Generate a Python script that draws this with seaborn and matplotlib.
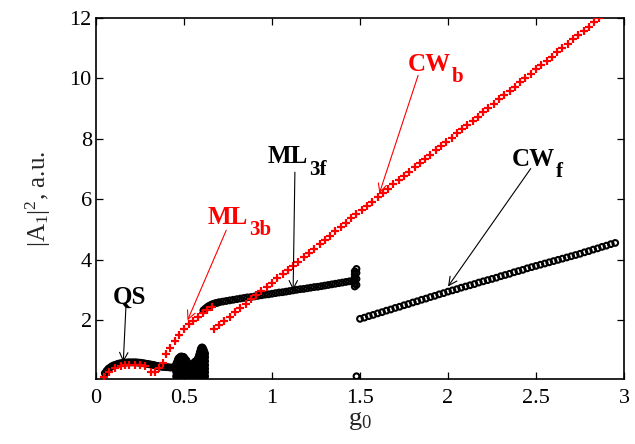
import numpy as np
import pandas as pd
import seaborn as sns
import matplotlib
matplotlib.use('Agg')
import matplotlib.pyplot as plt


"""### Data read off the figure"""

# QS branch (black circles)
qs_g0 = [0.05, 0.06, 0.07, 0.08, 0.09, 0.10, 0.11, 0.12, 0.13, 0.14, 0.15, 0.16, 0.17,
         0.18, 0.19, 0.20, 0.21, 0.22, 0.23, 0.24, 0.25, 0.26, 0.27, 0.28, 0.29, 0.30,
         0.31, 0.32, 0.33, 0.34, 0.35, 0.36, 0.37, 0.38, 0.39, 0.40, 0.41, 0.42, 0.43,
         0.44, 0.45]
qs_a = [0.25, 0.33, 0.40, 0.44, 0.48, 0.51, 0.53, 0.55, 0.57, 0.58, 0.59, 0.60, 0.60,
        0.61, 0.61, 0.61, 0.61, 0.61, 0.61, 0.60, 0.60, 0.59, 0.58, 0.57, 0.56, 0.55,
        0.54, 0.53, 0.52, 0.50, 0.49, 0.48, 0.47, 0.46, 0.46, 0.45, 0.45, 0.44, 0.44,
        0.44, 0.44]

# chaotic region, several values per g0
chaos_g0 = [0.455, 0.46, 0.465, 0.47, 0.475, 0.48, 0.485, 0.49, 0.495, 0.50, 0.505,
            0.51, 0.515, 0.52, 0.525, 0.53, 0.54,
            0.55, 0.555, 0.56, 0.565, 0.57, 0.575, 0.58, 0.585, 0.59, 0.595, 0.60,
            0.605, 0.61, 0.615, 0.62]
chaos_a = [
    [0.15, 0.30, 0.45, 0.55],
    [0.12, 0.25, 0.38, 0.50, 0.62],
    [0.10, 0.22, 0.35, 0.48, 0.60, 0.70],
    [0.10, 0.22, 0.35, 0.48, 0.62, 0.75],
    [0.10, 0.22, 0.35, 0.48, 0.62, 0.76],
    [0.10, 0.22, 0.35, 0.48, 0.60, 0.72, 0.80],
    [0.10, 0.22, 0.35, 0.48, 0.60, 0.72, 0.80],
    [0.10, 0.22, 0.35, 0.48, 0.60, 0.72, 0.80],
    [0.10, 0.22, 0.35, 0.48, 0.60, 0.72, 0.79],
    [0.10, 0.22, 0.35, 0.48, 0.60, 0.70, 0.78],
    [0.10, 0.22, 0.35, 0.48, 0.60, 0.72],
    [0.10, 0.22, 0.35, 0.48, 0.60, 0.70],
    [0.10, 0.22, 0.35, 0.48, 0.60, 0.66],
    [0.10, 0.22, 0.35, 0.48, 0.60],
    [0.12, 0.25, 0.38, 0.50, 0.55],
    [0.15, 0.28, 0.40, 0.50],
    [0.20, 0.32, 0.45],
    [0.10, 0.22, 0.35, 0.45, 0.55],
    [0.10, 0.22, 0.35, 0.48, 0.58],
    [0.10, 0.22, 0.35, 0.48, 0.62],
    [0.10, 0.22, 0.35, 0.48, 0.60, 0.64],
    [0.10, 0.22, 0.35, 0.48, 0.58, 0.65],
    [0.10, 0.22, 0.35, 0.48, 0.60, 0.70],
    [0.10, 0.22, 0.35, 0.48, 0.62, 0.75],
    [0.10, 0.22, 0.35, 0.48, 0.60, 0.72, 0.85],
    [0.10, 0.22, 0.35, 0.48, 0.60, 0.72, 0.85, 0.95],
    [0.10, 0.22, 0.35, 0.48, 0.60, 0.72, 0.85, 0.98, 1.05],
    [0.10, 0.22, 0.35, 0.48, 0.60, 0.72, 0.85, 0.98, 1.10],
    [0.10, 0.22, 0.35, 0.48, 0.60, 0.72, 0.85, 0.98, 1.10],
    [0.10, 0.22, 0.35, 0.48, 0.60, 0.72, 0.85, 0.95, 1.05],
    [0.12, 0.25, 0.38, 0.50, 0.62, 0.75, 0.88, 0.98],
    [0.15, 0.28, 0.40, 0.52, 0.65, 0.78, 0.90],
]

# ML_3f branch (black circles)
ml3f_g0 = [0.61, 0.62, 0.63, 0.64, 0.65, 0.66, 0.67, 0.68, 0.69, 0.70, 0.72, 0.74, 0.76,
           0.78, 0.80, 0.82, 0.84, 0.86, 0.88, 0.90, 0.92, 0.94, 0.96, 0.98, 1.00, 1.02,
           1.04, 1.06, 1.08, 1.10, 1.12, 1.14, 1.16, 1.18, 1.20, 1.22, 1.24, 1.26, 1.28,
           1.30, 1.32, 1.34, 1.36, 1.38, 1.40, 1.42, 1.44, 1.46,
           1.47, 1.47, 1.47, 1.47, 1.47, 1.47, 1.48, 1.48, 1.48, 1.48]
ml3f_a = [2.33, 2.38, 2.43, 2.47, 2.50, 2.53, 2.55, 2.57, 2.58, 2.60, 2.62, 2.64, 2.66,
          2.68, 2.70, 2.72, 2.74, 2.76, 2.77, 2.79, 2.81, 2.83, 2.85, 2.86, 2.88, 2.90,
          2.92, 2.93, 2.95, 2.97, 2.99, 3.01, 3.03, 3.04, 3.06, 3.08, 3.10, 3.11, 3.13,
          3.15, 3.17, 3.19, 3.21, 3.23, 3.25, 3.27, 3.29, 3.31,
          3.12, 3.22, 3.32, 3.42, 3.52, 3.62, 3.17, 3.37, 3.57, 3.70]

# isolated point and CW_f branch (black circles)
lone_g0 = [1.48]
lone_a = [0.15]

cwf_g0 = [1.500, 1.525, 1.550, 1.575, 1.600, 1.625, 1.650, 1.675, 1.700, 1.725,
          1.750, 1.775, 1.800, 1.825, 1.850, 1.875, 1.900, 1.925, 1.950, 1.975,
          2.000, 2.025, 2.050, 2.075, 2.100, 2.125, 2.150, 2.175, 2.200, 2.225,
          2.250, 2.275, 2.300, 2.325, 2.350, 2.375, 2.400, 2.425, 2.450, 2.475,
          2.500, 2.525, 2.550, 2.575, 2.600, 2.625, 2.650, 2.675, 2.700, 2.725,
          2.750, 2.775, 2.800, 2.825, 2.850, 2.875, 2.900, 2.925, 2.950]
cwf_a = [2.05, 2.09, 2.14, 2.18, 2.23, 2.27, 2.32, 2.36, 2.41, 2.45,
         2.50, 2.54, 2.59, 2.63, 2.68, 2.72, 2.77, 2.81, 2.86, 2.90,
         2.95, 2.99, 3.03, 3.08, 3.12, 3.16, 3.20, 3.25, 3.29, 3.33,
         3.37, 3.41, 3.46, 3.50, 3.54, 3.59, 3.63, 3.67, 3.72, 3.76,
         3.80, 3.84, 3.88, 3.92, 3.96, 4.00, 4.04, 4.08, 4.12, 4.16,
         4.20, 4.25, 4.29, 4.34, 4.38, 4.43, 4.47, 4.52, 4.56]

# ML_3b branch (red pluses)
ml3b_g0 = [0.045, 0.075, 0.11, 0.14, 0.165, 0.19, 0.22, 0.25, 0.28, 0.31, 0.335, 0.36,
           0.38, 0.40, 0.42, 0.45, 0.47, 0.50, 0.53, 0.55, 0.58, 0.61, 0.63, 0.66]
ml3b_a = [0.12, 0.30, 0.42, 0.50, 0.52, 0.53, 0.53, 0.53, 0.50, 0.28, 0.28, 0.41,
          0.58, 0.90, 1.10, 1.31, 1.50, 1.70, 1.87, 1.97, 2.10, 2.23, 2.33, 2.43]

# CW_b branch (red pluses)
cwb_g0 = [0.67, 0.70, 0.73, 0.76, 0.79, 0.82, 0.85, 0.88, 0.91, 0.94, 0.97, 1.00,
          1.03, 1.06, 1.09, 1.12, 1.15, 1.18, 1.21, 1.24, 1.27, 1.30, 1.33, 1.36,
          1.39, 1.42, 1.45, 1.48, 1.51, 1.54, 1.57, 1.60, 1.63, 1.66, 1.69, 1.72,
          1.75, 1.78, 1.81, 1.84, 1.87, 1.90, 1.93, 1.96, 1.99, 2.02, 2.05, 2.08,
          2.11, 2.14, 2.17, 2.20, 2.23, 2.26, 2.29, 2.32, 2.35, 2.38, 2.41, 2.44,
          2.47, 2.50, 2.53, 2.56, 2.59, 2.62, 2.65, 2.68, 2.71, 2.74, 2.77, 2.80,
          2.83, 2.86]
cwb_a = [1.70, 1.84, 1.98, 2.12, 2.26, 2.40, 2.55, 2.69, 2.83, 2.97, 3.11, 3.25,
         3.39, 3.53, 3.67, 3.80, 3.94, 4.08, 4.22, 4.36, 4.51, 4.65, 4.80, 4.94,
         5.08, 5.22, 5.37, 5.51, 5.65, 5.79, 5.93, 6.08, 6.22, 6.36, 6.50, 6.64,
         6.78, 6.92, 7.06, 7.20, 7.34, 7.48, 7.62, 7.76, 7.90, 8.04, 8.18, 8.32,
         8.46, 8.60, 8.74, 8.88, 9.02, 9.16, 9.31, 9.45, 9.59, 9.73, 9.87, 10.01,
         10.15, 10.30, 10.44, 10.58, 10.72, 10.86, 11.00, 11.15, 11.29, 11.43, 11.57, 11.71,
         11.86, 12.00]

x_ticks = [0, 0.5, 1, 1.5, 2, 2.5, 3]
x_tick_labels = ['0', '0.5', '1', '1.5', '2', '2.5', '3']
y_ticks = [2, 4, 6, 8, 10, 12]

"""### Build tables"""

chaos_x = [g for g, col in zip(chaos_g0, chaos_a) for _ in col]
chaos_y = [v for col in chaos_a for v in col]

black = pd.DataFrame({
    'g0': qs_g0 + chaos_x + ml3f_g0 + lone_g0 + cwf_g0,
    'A2': qs_a + chaos_y + ml3f_a + lone_a + cwf_a,
})
red = pd.DataFrame({
    'g0': ml3b_g0 + cwb_g0,
    'A2': ml3b_a + cwb_a,
})

"""### Plot"""

sns.set_style('ticks')
plt.rcParams['font.family'] = ['Liberation Serif', 'DejaVu Serif']
plt.rcParams['mathtext.fontset'] = 'custom'
plt.rcParams['mathtext.rm'] = 'Liberation Serif'
plt.rcParams['mathtext.it'] = 'Liberation Serif'
plt.rcParams['mathtext.bf'] = 'Liberation Serif:bold'

fig = plt.figure(figsize=(6.35, 4.44), dpi=100)
ax = fig.add_axes([0.1512, 0.1464, 0.8315, 0.8131])

sns.scatterplot(data=black, x='g0', y='A2', ax=ax, marker='o', s=17,
                facecolor='none', edgecolor='black', linewidth=1.5, zorder=3)
sns.scatterplot(data=red, x='g0', y='A2', ax=ax, marker='+', s=30,
                color='red', linewidth=1.6, zorder=4)

ax.set_xlim(0, 3)
ax.set_ylim(0.06, 12)
ax.set_xticks(x_ticks)
ax.set_xticklabels(x_tick_labels)
ax.set_yticks(y_ticks)
ax.tick_params(direction='in', length=5, width=0.9, labelsize=16,
               top=True, right=True, colors='black')
ax.tick_params(axis='x', pad=7)
ax.tick_params(axis='y', pad=3)
for sp in ax.spines.values():
    sp.set_visible(True)
    sp.set_linewidth(1.2)
    sp.set_color('black')

ax.set_xlabel(r'$\mathrm{g}_0$', fontsize=19, labelpad=1)
ax.set_ylabel(r'$|\mathrm{A}_1|^2$, a.u.', fontsize=18, labelpad=12)


# labels with arrows: main text, then a lowered subscript beside it
def label(main, sub, xy, xytext, arrow_from, color):
    t = ax.text(xytext[0], xytext[1], main, color=color, fontsize=18,
                fontweight='bold', ha='left', va='baseline', zorder=6)
    if sub:
        ax.annotate(sub, xy=(1, 0), xycoords=t, xytext=(0.5, -4.5),
                    textcoords='offset points', color=color, fontsize=15,
                    fontweight='bold', ha='left', va='baseline', zorder=6)
    ax.annotate('', xy=xy, xytext=arrow_from,
                arrowprops=dict(arrowstyle='->', color=color, lw=0.8,
                                mutation_scale=15, shrinkA=0, shrinkB=0),
                zorder=6)


label('QS', '', (0.155, 0.62), (0.097, 2.56), (0.17, 2.45), 'black')
label('ML', '3b', (0.52, 2.0), (0.636, 5.2), (0.74, 4.98), 'red')
label('ML', '3f', (1.12, 3.0), (0.977, 7.19), (1.13, 6.9), 'black')
label('CW', 'b', (1.61, 6.2), (1.773, 10.26), (1.83, 10.1), 'red')
label('CW', 'f', (2.0, 3.12), (2.364, 7.12), (2.47, 7.02), 'black')

plt.savefig('out.png', dpi=100)
